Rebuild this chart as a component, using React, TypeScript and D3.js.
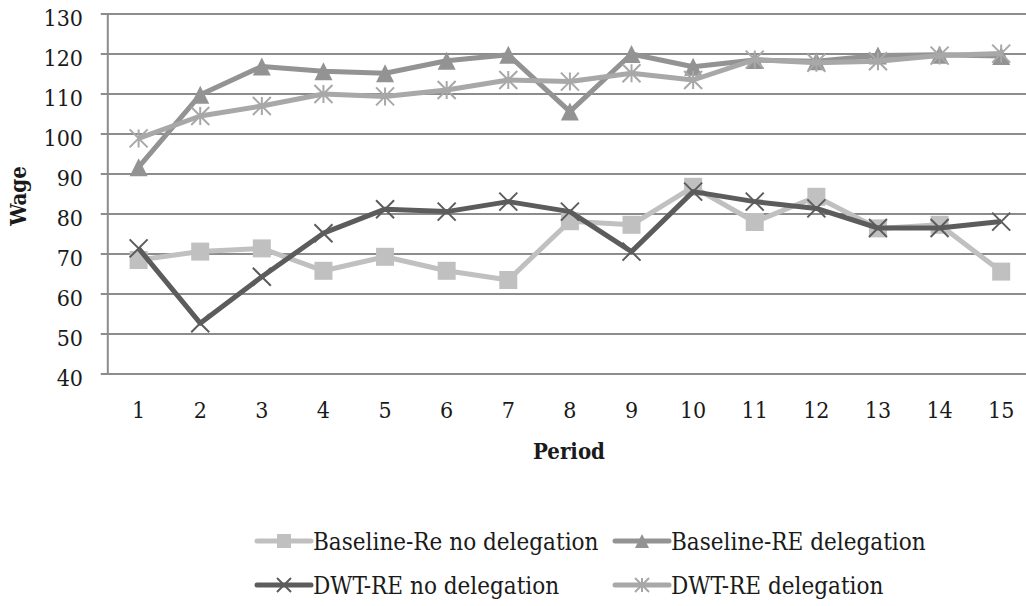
import React from "react";
import * as d3 from "d3";

const periods = [1, 2, 3, 4, 5, 6, 7, 8, 9, 10, 11, 12, 13, 14, 15];
const yTicks = [40, 50, 60, 70, 80, 90, 100, 110, 120, 130];

const baselineNoDeleg = [68.5, 70.6, 71.4, 65.8, 69.3, 65.8, 63.5, 78.2, 77.3, 86.8, 78.0, 84.3, 76.4, 77.3, 65.6];
const baselineDeleg = [91.7, 109.8, 116.9, 115.7, 115.2, 118.3, 119.8, 105.6, 120.0, 116.8, 118.5, 118.2, 119.6, 119.8, 119.5];
const dwtNoDeleg = [71.4, 52.7, 64.3, 75.2, 81.2, 80.6, 83.1, 80.6, 70.6, 85.6, 83.1, 81.4, 76.5, 76.5, 78.1];
const dwtDeleg = [98.9, 104.5, 107.0, 110.0, 109.4, 111.0, 113.5, 113.1, 115.2, 113.5, 118.6, 117.8, 118.2, 119.6, 120.1];

const seriesNames = ["Baseline-Re no delegation", "Baseline-RE delegation", "DWT-RE no delegation", "DWT-RE delegation"];
const seriesColors = ["#c0c0c0", "#939393", "#5c5c5c", "#a8a8a8"];
const seriesMarkers = ["square", "triangle", "x", "star"];
const seriesValues = [baselineNoDeleg, baselineDeleg, dwtNoDeleg, dwtDeleg];

const W = 1026;
const H = 606;
const left = 107.8;
const right = 1032;
const top = 14;
const bottom = 374;
const FONT = "'DejaVu Serif Condensed', 'DejaVu Serif', serif";

function Marker({ kind, x, y, color, s }: { kind: string; x: number; y: number; color: string; s: number }) {
  const h = s / 2;
  if (kind === "square") {
    return <rect x={x - h} y={y - h} width={s} height={s} fill={color} />;
  }
  if (kind === "triangle") {
    return <path d={`M${x},${y - h}L${x + h},${y + h}L${x - h},${y + h}Z`} fill={color} />;
  }
  if (kind === "x") {
    return (
      <path d={`M${x - h},${y - h}L${x + h},${y + h}M${x + h},${y - h}L${x - h},${y + h}`} stroke={color} strokeWidth={2} fill="none" />
    );
  }
  return (
    <path
      d={`M${x - h},${y - h}L${x + h},${y + h}M${x + h},${y - h}L${x - h},${y + h}M${x},${y - h}L${x},${y + h}`}
      stroke={color}
      strokeWidth={2}
      fill="none"
    />
  );
}

export default function App() {
  const x = d3.scalePoint<number>().domain(periods).range([left, right]).padding(0.5);
  const y = d3.scaleLinear().domain([40, 130]).range([bottom, top]);
  const line = d3
    .line<number>()
    .x((_, i) => x(periods[i]) as number)
    .y((d) => y(d));

  const legendRows = [
    { y: 541, items: [0, 1] },
    { y: 585, items: [2, 3] },
  ];
  const legendCols = [257, 615];

  return (
    <svg width={W} height={H} style={{ position: "absolute", left: 0, top: 0, background: "#fff" }} fontFamily={FONT}>
      <rect x={0} y={0} width={W} height={H} fill="#fff" />
      {yTicks.map((t) => (
        <g key={t}>
          <line x1={left - 7} x2={W} y1={y(t)} y2={y(t)} stroke="#8c8c8c" strokeWidth={2} />
          <text x={83} y={y(t) + 12} textAnchor="end" fontSize={23} fill="#1a1a1a">
            {t}
          </text>
        </g>
      ))}
      <line x1={left} x2={left} y1={top} y2={bottom} stroke="#8c8c8c" strokeWidth={2} />
      {periods.map((p) => (
        <text key={p} x={x(p) as number} y={418} textAnchor="middle" fontSize={23} fill="#1a1a1a">
          {p}
        </text>
      ))}
      <text x={569} y={459} textAnchor="middle" fontSize={22} fontWeight="bold" fill="#1a1a1a">
        Period
      </text>
      <text transform={`translate(26,196) rotate(-90)`} textAnchor="middle" fontSize={22} fontWeight="bold" fill="#1a1a1a">
        Wage
      </text>
      {seriesValues.map((vals, si) => (
        <g key={si}>
          <path d={line(vals) || ""} fill="none" stroke={seriesColors[si]} strokeWidth={5} strokeLinejoin="round" />
          {vals.map((v, i) => (
            <Marker key={i} kind={seriesMarkers[si]} x={x(periods[i]) as number} y={y(v)} color={seriesColors[si]} s={18} />
          ))}
        </g>
      ))}
      {legendRows.map((row) =>
        row.items.map((si, ci) => {
          const lx = legendCols[ci];
          return (
            <g key={si}>
              <line x1={lx} x2={lx + 54} y1={row.y} y2={row.y} stroke={seriesColors[si]} strokeWidth={5} strokeLinecap="round" />
              <Marker kind={seriesMarkers[si]} x={lx + 27} y={row.y} color={seriesColors[si]} s={14} />
              <text x={lx + 56} y={row.y + 9} fontSize={24} fill="#1a1a1a">
                {seriesNames[si]}
              </text>
            </g>
          );
        })
      )}
    </svg>
  );
}
